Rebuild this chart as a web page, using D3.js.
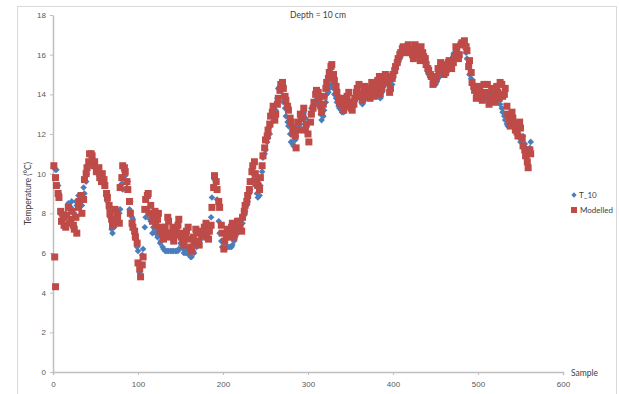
<!DOCTYPE html>
<html>
<head>
<meta charset="utf-8">
<script src="https://cdn.jsdelivr.net/npm/d3@7"></script>
<style>
  html, body { margin: 0; padding: 0; background: #fff; }
  svg { display: block; font-family: Lato, "Open Sans", sans-serif; }
</style>
</head>
<body>
<svg id="chart"></svg>
<script>
// values at two interleaved sample runs:
// run A at samples 1, 4, 7 ... 562 and run B at samples 3, 6, 9 ... 561
const sampleStep = 3;
const firstSampleA = 1;
const firstSampleB = 3;

const t10ValuesA = [
  10.3, 10.2, 9.0, 7.9, 7.7, 7.9, 8.3, 8.6, 8.0, 8.4, 8.7, 8.4, 9.0, 10.0, 10.5, 10.8, 10.6, 10.3, 10.0, 9.8,
  9.4, 8.6, 7.8, 7.0, 7.5, 7.9, 8.2, 9.2, 9.9, 9.6, 8.6, 7.7, 7.0, 6.1, 4.8, 6.2, 7.8, 8.0, 7.6, 7.3,
  7.0, 6.9, 6.6, 6.2, 6.1, 6.1, 6.1, 6.1, 6.1, 6.2, 6.4, 6.0, 6.1, 5.9, 5.8, 6.0, 6.3, 6.5, 6.8, 7.0,
  7.1, 7.3, 8.8, 9.7, 8.7, 7.0, 6.3, 6.3, 6.3, 6.3, 6.4, 6.8, 7.0, 7.4, 7.5, 8.1, 8.6, 9.2, 10.0, 9.4,
  8.8, 9.4, 10.8, 11.2, 11.8, 12.4, 12.9, 13.2, 14.3, 14.2, 13.6, 12.9, 12.4, 11.6, 11.4, 11.9, 12.4, 12.7, 13.1, 12.1,
  12.6, 13.3, 13.5, 13.9, 13.4, 12.7, 13.2, 14.0, 14.3, 14.5, 14.0, 13.6, 13.3, 13.1, 13.2, 13.5, 13.3, 13.4, 13.8, 14.1,
  13.8, 13.5, 13.9, 14.1, 13.9, 14.0, 14.2, 14.3, 13.8, 14.4, 14.9, 14.6, 14.2, 14.8, 15.3, 15.6, 16.0, 16.2, 16.3, 16.1,
  16.2, 15.9, 16.0, 16.2, 16.1, 15.8, 15.4, 15.0, 14.8, 14.6, 14.6, 14.9, 15.1, 15.2, 15.1, 15.5, 15.8, 16.1, 16.3, 16.5,
  16.6, 16.5, 15.8, 15.0, 14.5, 14.2, 13.9, 14.0, 13.8, 13.9, 13.7, 14.0, 13.8, 13.6, 13.9, 13.5, 13.1, 12.7, 12.4, 12.6,
  12.8, 12.5, 12.0, 11.6, 11.9, 11.3, 10.9, 11.6
];
const t10ValuesB = [
  10.2, 9.4, 8.0, 7.8, 8.0, 8.5, 8.3, 7.8, 8.6, 8.9, 8.6, 9.3, 9.6, 10.4, 10.9, 10.5, 10.2, 9.9, 9.7, 9.5,
  8.9, 8.2, 7.2, 7.3, 7.7, 8.0, 9.5, 10.1, 9.3, 8.2, 7.8, 6.8, 6.3, 5.0, 5.9, 7.3, 8.2, 7.7, 7.0, 7.2,
  6.8, 6.5, 6.3, 6.1, 6.1, 6.1, 6.1, 6.1, 6.1, 6.5, 6.2, 6.0, 6.2, 5.8, 6.1, 6.5, 6.4, 6.7, 7.2, 6.9,
  7.2, 7.8, 9.3, 9.2, 7.6, 6.6, 6.3, 6.3, 6.3, 6.3, 6.6, 7.2, 7.2, 7.7, 7.9, 8.4, 9.0, 9.6, 9.8, 9.0,
  8.9, 10.1, 11.0, 11.6, 12.0, 12.6, 13.0, 13.8, 14.4, 13.9, 13.3, 12.6, 12.0, 11.5, 11.7, 12.2, 12.5, 12.9, 12.8, 12.0,
  13.0, 13.4, 13.7, 13.6, 13.0, 12.9, 13.6, 14.1, 14.4, 14.3, 13.8, 13.4, 13.2, 13.1, 13.4, 13.4, 13.3, 13.6, 13.9, 14.0,
  13.6, 13.7, 14.0, 14.0, 13.9, 14.1, 14.2, 14.0, 14.1, 14.7, 14.8, 14.4, 14.5, 15.1, 15.5, 15.8, 16.1, 16.3, 16.2, 16.1,
  16.0, 15.9, 16.1, 16.2, 15.9, 15.6, 15.2, 14.9, 14.7, 14.5, 14.8, 15.0, 15.2, 15.0, 15.3, 15.7, 15.9, 16.2, 16.4, 16.6,
  16.6, 16.1, 15.4, 14.8, 14.3, 14.0, 13.9, 13.9, 13.8, 13.8, 13.9, 13.9, 13.7, 13.8, 13.7, 13.3, 12.9, 12.5, 12.5, 12.7,
  12.6, 12.2, 11.8, 11.7, 11.5, 11.1, 11.3
];

const modelledValuesA = [
  10.4, 9.4, 8.8, 7.6, 7.4, 7.9, 7.5, 8.1, 7.2, 7.0, 8.6, 8.0, 9.7, 10.3, 11.0, 10.9, 10.6, 10.2, 9.8, 10.0,
  9.4, 8.8, 8.0, 7.4, 8.2, 7.8, 9.3, 10.4, 10.1, 9.2, 8.0, 7.3, 6.8, 5.5, 4.8, 5.8, 8.7, 9.0, 8.4, 7.8,
  7.4, 8.0, 7.3, 6.7, 7.0, 7.6, 7.0, 6.6, 7.2, 7.7, 6.8, 6.4, 7.1, 6.7, 6.1, 6.5, 7.0, 6.4, 6.9, 7.3,
  6.8, 7.1, 8.3, 9.9, 9.2, 8.3, 7.0, 6.6, 7.2, 6.8, 7.5, 7.0, 7.6, 7.3, 7.8, 8.4, 8.9, 9.6, 10.4, 10.0,
  9.4, 9.8, 10.9, 11.7, 12.2, 12.9, 13.4, 13.0, 13.8, 14.5, 14.3, 13.7, 13.2, 12.6, 12.0, 11.3, 12.2, 12.8, 13.3, 12.5,
  11.6, 13.0, 13.6, 14.2, 13.8, 13.1, 13.9, 14.6, 15.1, 15.5, 14.7, 14.1, 13.6, 13.8, 13.4, 13.9, 13.6, 13.2, 13.8, 14.3,
  14.0, 13.7, 14.4, 14.1, 13.8, 14.5, 14.2, 14.7, 14.0, 14.5, 15.0, 14.6, 14.3, 15.0, 15.4, 15.8, 16.1, 16.4, 16.2, 16.5,
  16.1, 15.8, 16.3, 16.0, 16.4, 15.9, 15.5, 15.2, 14.9, 14.6, 14.8, 15.2, 15.5, 15.0, 15.4, 15.7, 15.3, 15.9, 16.2, 16.0,
  16.6, 16.7, 16.2, 15.7, 14.6, 14.2, 13.9, 14.4, 13.7, 14.1, 14.5, 13.8, 14.3, 13.6, 14.1, 14.6, 13.9, 14.3, 13.0, 12.4,
  12.8, 12.2, 11.9, 12.3, 11.4, 10.9, 10.3, 11.0
];
const modelledValuesB = [
  9.8, 9.0, 8.1, 7.8, 7.3, 8.3, 7.7, 7.4, 7.8, 8.3, 8.9, 8.7, 10.0, 10.6, 11.0, 10.4, 10.1, 10.3, 9.6, 9.7,
  9.0, 8.4, 7.7, 7.6, 8.0, 7.5, 9.8, 10.3, 9.6, 8.6, 7.5, 7.1, 6.5, 5.2, 5.4, 8.2, 8.9, 8.0, 7.6, 8.1,
  7.7, 7.1, 6.9, 7.3, 7.8, 6.8, 7.3, 6.9, 7.4, 7.0, 6.6, 6.9, 7.3, 6.3, 6.8, 7.2, 6.6, 7.1, 6.9, 7.5,
  6.7, 7.4, 9.3, 9.6, 8.6, 7.4, 6.2, 6.9, 7.0, 7.3, 6.8, 7.4, 7.6, 7.1, 8.1, 8.6, 9.2, 10.1, 10.6, 9.6,
  9.2, 10.4, 11.3, 11.9, 12.5, 13.1, 12.7, 13.5, 14.2, 14.6, 13.9, 13.4, 12.8, 12.3, 11.9, 12.6, 13.0, 12.9, 12.2, 12.0,
  12.6, 13.3, 14.0, 14.1, 13.4, 13.5, 14.3, 14.8, 15.4, 15.0, 14.4, 13.8, 13.5, 13.2, 13.7, 14.1, 13.3, 13.5, 14.1, 14.5,
  13.9, 14.2, 13.9, 14.3, 14.6, 13.9, 14.4, 14.9, 14.3, 14.8, 14.9, 14.1, 14.8, 15.2, 15.6, 16.0, 16.3, 16.1, 16.4, 16.3,
  16.0, 16.5, 16.2, 15.7, 16.1, 15.8, 15.3, 15.0, 14.5, 14.9, 15.3, 15.6, 15.2, 15.1, 15.6, 15.4, 15.6, 16.4, 15.8, 16.5,
  16.5, 16.4, 15.4, 15.1, 14.4, 13.8, 14.2, 13.9, 14.5, 14.0, 13.5, 14.2, 13.9, 14.4, 13.8, 14.5, 14.0, 13.4, 12.7, 13.1,
  12.5, 12.1, 12.6, 11.8, 11.2, 10.6, 11.2
];

// two low modelled points at the very start
const modelledExtraSamples = [2, 3];
const modelledExtraValues = [5.8, 4.3];

const xTicks = [0, 100, 200, 300, 400, 500, 600];
const yTicks = [0, 2, 4, 6, 8, 10, 12, 14, 16, 18];

const width = 619;
const height = 394;
const margin = { top: 15, right: 56, bottom: 22, left: 53 };

const svg = d3.select('#chart').attr('width', width).attr('height', height);

// outer chart frame
svg.append('rect')
  .attr('x', 17.5).attr('y', 6.5)
  .attr('width', 599).attr('height', 400)
  .attr('fill', '#fff')
  .attr('stroke', '#d9d9d9');

const x = d3.scaleLinear([0, 600], [margin.left, width - margin.right]);
const y = d3.scaleLinear([0, 18], [height - margin.bottom, margin.top]);

const axisColor = '#bfbfbf';
const textColor = '#595959';

const xAxis = svg.append('g')
  .attr('transform', `translate(0,${y(0)})`)
  .call(d3.axisBottom(x).tickValues(xTicks).tickSize(3).tickSizeOuter(3).tickPadding(6));
const yAxis = svg.append('g')
  .attr('transform', `translate(${x(0)},0)`)
  .call(d3.axisLeft(y).tickValues(yTicks).tickSize(3).tickSizeOuter(0).tickPadding(4));

[xAxis, yAxis].forEach((g) => {
  g.select('.domain').attr('stroke', axisColor).attr('stroke-width', 1.5);
  g.selectAll('.tick line').attr('stroke', axisColor);
  g.selectAll('.tick text').attr('fill', textColor).style('font-size', '8px');
});

// series points
const toPoints = (values, first) => values.map((v, i) => ({ s: first + i * sampleStep, v }));
const t10 = toPoints(t10ValuesA, firstSampleA).concat(toPoints(t10ValuesB, firstSampleB));
const modelled = toPoints(modelledValuesA, firstSampleA)
  .concat(toPoints(modelledValuesB, firstSampleB))
  .concat(modelledExtraValues.map((v, i) => ({ s: modelledExtraSamples[i], v })));

const blue = '#4a7ebb';
const red = '#be4b48';
const diamond = d3.symbol(d3.symbolSquare, 22);

svg.append('g')
  .selectAll('path')
  .data(t10)
  .join('path')
  .attr('d', diamond)
  .attr('transform', (d) => `translate(${x(d.s)},${y(d.v)}) rotate(45)`)
  .attr('fill', blue);

const sq = 7;
svg.append('g')
  .selectAll('rect')
  .data(modelled)
  .join('rect')
  .attr('x', (d) => x(d.s) - sq / 2)
  .attr('y', (d) => y(d.v) - sq / 2)
  .attr('width', sq)
  .attr('height', sq)
  .attr('fill', red);

// title and axis labels
svg.append('text')
  .attr('x', 318).attr('y', 18)
  .attr('text-anchor', 'middle')
  .attr('fill', '#404040')
  .style('font-size', '8.5px')
  .text('Depth = 10 cm');

svg.append('text')
  .attr('transform', `translate(31,${(y(0) + y(18)) / 2}) rotate(-90)`)
  .attr('text-anchor', 'middle')
  .attr('fill', '#404040')
  .style('font-size', '8.5px')
  .text('Temperature (°C)');

svg.append('text')
  .attr('x', 571).attr('y', 376)
  .attr('fill', '#404040')
  .style('font-size', '8.5px')
  .text('Sample');

// legend
const legend = svg.append('g').attr('transform', 'translate(574,0)');
legend.append('path')
  .attr('d', d3.symbol(d3.symbolSquare, 14))
  .attr('transform', 'translate(0,195) rotate(45)')
  .attr('fill', blue);
legend.append('text')
  .attr('x', 5).attr('y', 198)
  .attr('fill', '#404040')
  .style('font-size', '8px')
  .text('T_10');
legend.append('rect')
  .attr('x', -3).attr('y', 207)
  .attr('width', 6).attr('height', 6)
  .attr('fill', red);
legend.append('text')
  .attr('x', 6).attr('y', 213)
  .attr('fill', '#404040')
  .style('font-size', '8px')
  .text('Modelled');
</script>
</body>
</html>
